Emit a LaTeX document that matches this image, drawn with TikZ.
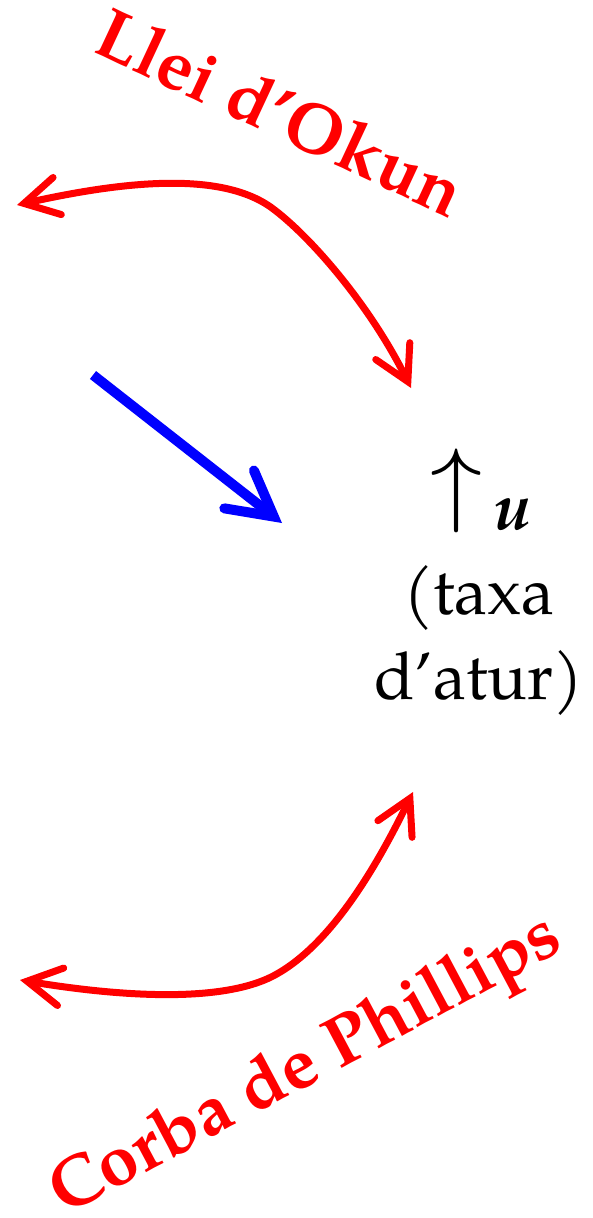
\documentclass[tikz,border=0pt]{standalone}
\usepackage{fontspec}
\setmainfont{TeX Gyre Pagella}
\usepackage{graphicx}
\usetikzlibrary{arrows.meta}
\newcommand{\bigup}{\raisebox{15pt}{\resizebox*{52pt}{84pt}{$\uparrow$}}}
\tikzset{
  redtxt/.style={text=red, font=\fontsize{71}{85}\selectfont\bfseries, inner sep=0pt},
  blktxt/.style={text=black, font=\fontsize{66}{85}\selectfont, align=center, inner sep=0pt},
  redtip/.tip={Straight Barb[length=34pt,width=38pt,line cap=round,line join=miter]},
  bluetip/.tip={Straight Barb[length=44pt,width=48pt,line cap=round,line join=miter]},
  redarr/.style={draw=red, line width=7pt, redtip-redtip},
  bluearr/.style={draw=blue, line width=10pt, line cap=butt, -bluetip}
}
\begin{document}
\begin{tikzpicture}[x=1pt,y=-1pt]
\useasboundingbox (0,0) rectangle (592,1218);
% text
\node[redtxt, rotate=-25] (okun) at (281,112) {Llei d’Okun};
\node[redtxt, rotate=28] (phil) at (307,1068) {Corba de Phillips};
\node[blktxt] (u) at (479,582) {\hspace*{4pt}\bigup\hspace{12pt}\textbf{\textit{u}}\\(taxa\\d’atur)};
% coordinates
\coordinate (ok1) at (17,205);
\coordinate (okm) at (272,208);
\coordinate (ok2) at (411,388);
\coordinate (ph1) at (20,980);
\coordinate (phm) at (275,975);
\coordinate (ph2) at (413,792);
\coordinate (bl1) at (93,375);
\coordinate (bl2) at (282,523);
% arrows
\draw[redarr] (ok1) .. controls (120,182) and (220,170) .. (okm)
  .. controls (310,236) and (370,305) .. (ok2);
\draw[redarr] (ph1) .. controls (110,995) and (220,1005) .. (phm)
  .. controls (330,945) and (375,870) .. (ph2);
\draw[bluearr] (bl1) -- (bl2);
\end{tikzpicture}
\end{document}
